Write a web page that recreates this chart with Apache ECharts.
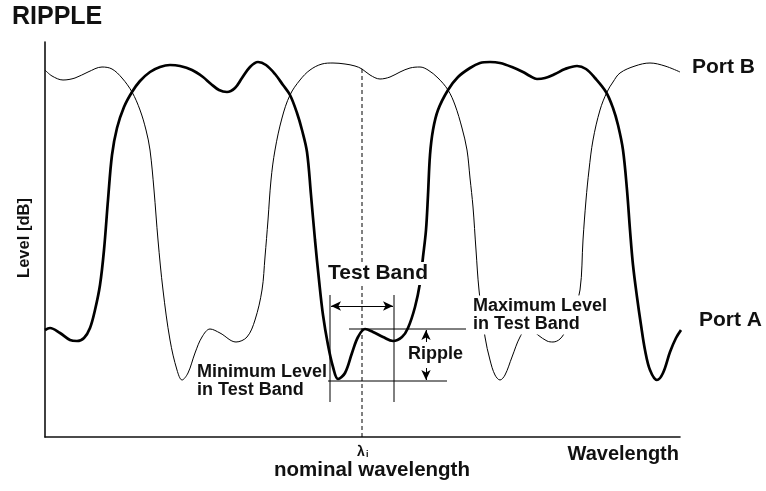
<!DOCTYPE html>
<html><head><meta charset="utf-8">
<script src="https://cdn.jsdelivr.net/npm/echarts/dist/echarts.min.js"></script>
<style>html,body{margin:0;padding:0;background:#fff}#c{width:766px;height:491px}</style>
</head><body><div id="c"></div>
<script>
// wavelength (arbitrary units) , level (arbitrary units)
const portA = [[0,107],[5,109],[15,104],[25,97],[32,96],[39,99],[45,109],[50,127],[55,152],[59,187],[63,237],[67,282],[72,309],[79,330],[87,345],[95,356],[105,365],[115,370],[125,372],[135,371],[147,367],[158,360],[166,353],[174,347],[182,345],[190,349],[197,359],[205,370],[213,375],[221,372],[230,363],[238,352],[245,342],[252,324],[257,307],[262,285],[266,242],[270,197],[274,157],[278,122],[283,92],[288,70],[293,58],[300,64],[307,84],[313,100],[320,108],[328,105],[338,100],[348,96],[357,100],[363,109],[370,130],[375,154],[378,180],[381,207],[383,242],[385,282],[388,307],[393,327],[403,347],[413,360],[425,369],[435,374],[445,375],[455,374],[467,370],[478,365],[485,361],[492,358],[500,359],[510,363],[520,368],[532,371],[541,368],[550,359],[561,345],[568,329],[573,312],[578,287],[582,247],[585,207],[588,172],[592,140],[596,112],[600,87],[605,67],[612,57],[618,64],[625,85],[631,99],[636,107]];
const portB = [[0,367],[7,361],[18,357],[30,359],[43,365],[57,370],[67,368],[77,359],[87,345],[95,327],[101,307],[105,287],[109,247],[113,197],[118,147],[125,97],[132,67],[137,57],[143,64],[150,84],[157,100],[165,108],[175,104],[191,95],[202,100],[210,117],[217,147],[220,180],[223,217],[226,257],[230,287],[237,319],[245,342],[255,357],[265,367],[277,373],[288,374],[300,373],[310,371],[317,368],[325,362],[335,358],[345,360],[355,365],[365,369],[375,370],[383,367],[393,359],[403,347],[410,332],[417,309],[422,287],[425,259],[428,230],[431,187],[434,147],[440,100],[445,77],[450,62],[455,57],[460,62],[467,80],[475,100],[483,110],[493,102],[502,96],[508,95],[515,98],[521,107],[528,125],[535,147],[538,197],[541,237],[544,267],[548,297],[555,327],[562,345],[568,355],[575,364],[590,371],[605,374],[620,371],[635,365]];
const nominalWavelength = 317;
const testBandEdges = [285, 349];
const maxLevelInBand = 108;
const minLevelInBand = 56;
const rippleWavelength = 381;

const FONT = 'Arial, "Liberation Sans", Helvetica, sans-serif';
const chart = echarts.init(document.getElementById('c'), null, {renderer: 'canvas'});

function seg(p, q, extra) {
  return Object.assign({type: 'line', data: [p, q], symbol: 'none', silent: true, clip: false, z: 5,
    lineStyle: {color: '#000', width: 1}}, extra || {});
}
function txt(text, x, y, size, opts) {
  return Object.assign({type: 'text', x: x, y: y, z: 100, silent: true,
    style: Object.assign({text: text, font: 'bold ' + size + 'px ' + FONT, fill: '#111',
      align: 'left', verticalAlign: 'middle'}, (opts && opts.style) || {})},
    opts && opts.rotation ? {rotation: opts.rotation} : {});
}
const bg = {backgroundColor: '#fff', padding: [1, 1, 1, 1]};

const arrow = (p, q) => [{coord: p, symbol: 'none'}, {coord: q, symbol: 'arrow'}];

chart.setOption({
  animation: false,
  backgroundColor: '#fff',
  grid: {left: 45, right: 86, top: 42, bottom: 54},
  xAxis: {type: 'value', min: 0, max: 635, axisLine: {lineStyle: {color: '#111', width: 1.6}},
    axisTick: {show: false}, axisLabel: {show: false}, splitLine: {show: false}},
  yAxis: {type: 'value', min: 0, max: 395, axisLine: {show: true, lineStyle: {color: '#111', width: 1.6}},
    axisTick: {show: false}, axisLabel: {show: false}, splitLine: {show: false}},
  series: [
    {name: 'Port B', type: 'line', data: portB, smooth: 0.35, symbol: 'none', clip: false, z: 3,
      lineStyle: {color: '#000', width: 1}},
    {name: 'Port A', type: 'line', data: portA, smooth: 0.35, symbol: 'none', clip: false, z: 4,
      lineStyle: {color: '#000', width: 2.7}},
    seg([nominalWavelength, 0], [nominalWavelength, 369], {lineStyle: {color: '#000', width: 1, type: [4, 3]}}),
    seg([testBandEdges[0], 35], [testBandEdges[0], 142]),
    seg([testBandEdges[1], 35], [testBandEdges[1], 142]),
    seg([304, maxLevelInBand], [421, maxLevelInBand]),
    seg([281, minLevelInBand], [402, minLevelInBand]),
    {type: 'line', data: [], silent: true, z: 6,
      markLine: {silent: true, animation: false, symbol: ['arrow', 'arrow'], symbolSize: [7, 10],
        label: {show: false}, lineStyle: {color: '#000', width: 1, type: 'solid'},
        emphasis: {disabled: true},
        data: [
          [{coord: [testBandEdges[0] + 1, 131]}, {coord: [testBandEdges[1] - 1, 131]}],
          arrow([rippleWavelength, 95], [rippleWavelength, maxLevelInBand - 1]),
          arrow([rippleWavelength, 69], [rippleWavelength, minLevelInBand + 1])
        ]}}
  ],
  graphic: [
    txt('RIPPLE', 12, 17.5, 25),
    txt('Port B', 692, 67.5, 21),
    txt('Port A', 699, 320.5, 21),
    txt('Test Band', 327, 273.5, 21, {style: bg}),
    txt('Maximum Level\nin Test Band', 472, 315, 18, {style: Object.assign({lineHeight: 18.5}, bg)}),
    txt('Minimum Level\nin Test Band', 196, 381, 18, {style: Object.assign({lineHeight: 18.5}, bg)}),
    txt('Ripple', 407, 354, 18, {style: bg}),
    txt('Level [dB]', 24, 238, 16.5, {rotation: Math.PI / 2, style: {align: 'center'}}),
    txt('Wavelength', 679, 454.5, 20, {style: {align: 'right'}}),
    txt('λ', 357, 452, 14),
    txt('i', 366, 455, 9),
    txt('nominal wavelength', 372, 470, 20.5, {style: {align: 'center'}})
  ]
});
</script>
</body></html>
